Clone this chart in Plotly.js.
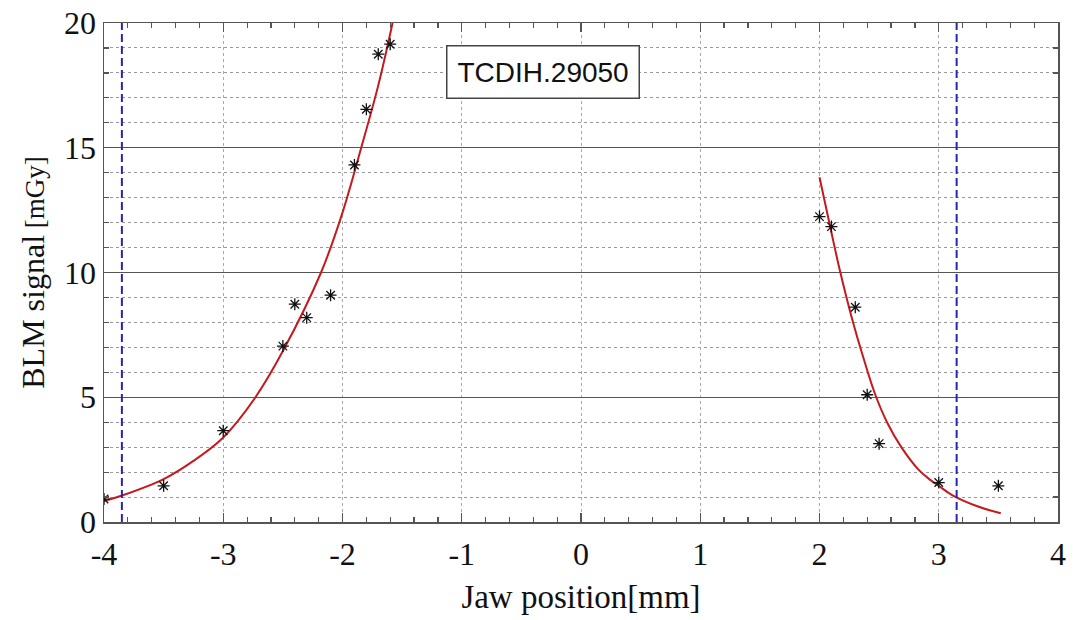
<!DOCTYPE html>
<html>
<head>
<meta charset="utf-8">
<script src="https://cdn.plot.ly/plotly-3.0.1.min.js"></script>
<style>
  html, body { margin: 0; padding: 0; background: #ffffff; }
  #chart { width: 1075px; height: 620px; }
</style>
</head>
<body>
<div id="chart"></div>
<script>
// ---- measured BLM signal (mGy) vs jaw position (mm) ----
const leftJawPos    = [-4.0, -3.5, -3.0, -2.5, -2.4, -2.3, -2.1, -1.9, -1.8, -1.7, -1.6];
const leftSignal    = [0.92, 1.45, 3.66, 7.05, 8.73, 8.19, 9.09, 14.31, 16.54, 18.75, 19.15];
const rightJawPos   = [2.0, 2.1, 2.3, 2.4, 2.5, 3.0, 3.5];
const rightSignal   = [12.24, 11.84, 8.61, 5.10, 3.14, 1.58, 1.45];

// ---- fitted curves ----
const leftFitPos    = [-4.0, -3.855, -3.5, -3.25, -3.0, -2.73, -2.5, -2.18, -2.0, -1.843, -1.7, -1.58];
const leftFitVal    = [0.84, 1.05, 1.72, 2.45, 3.39, 5.0, 6.85, 10.0, 12.4, 15.0, 17.5, 20.0];
const rightFitPos   = [2.0, 2.1, 2.17, 2.27, 2.37, 2.468, 2.566, 2.686, 2.83, 2.92, 3.0, 3.112, 3.33, 3.52];
const rightFitVal   = [13.82, 11.6, 10.1, 8.2, 6.55, 5.1, 4.0, 3.0, 2.1, 1.72, 1.45, 1.08, 0.62, 0.35];

// ---- aperture limits (blue dashed) ----
const apertureLimits = [-3.85, 3.15];

// ---- tick labels ----
const xTickVals = [-4, -3, -2, -1, 0, 1, 2, 3, 4];
const xTickText = ['-4', '-3', '-2', '-1', '0', '1', '2', '3', '4'];
const yTickVals = [0, 5, 10, 15, 20];
const yTickText = ['0', '5', '10', '15', '20'];

// ---- labels ----
const collimatorName = 'TCDIH.29050';
const xTitle = 'Jaw position[mm]';
const yTitle = 'BLM signal<span style="font-size:27px"> [mGy]</span>';

const serif = 'Liberation Serif, Times New Roman, serif';
const sans = 'Liberation Sans, Arial, sans-serif';

const markerStyle = { symbol: 'asterisk-open', size: 10, color: '#111', line: { color: '#111', width: 1.3 } };
const fitLine = { color: '#c41a1f', width: 2, shape: 'spline', smoothing: 1 };

const traces = [
  { x: leftFitPos, y: leftFitVal, mode: 'lines', line: fitLine, hoverinfo: 'skip' },
  { x: rightFitPos, y: rightFitVal, mode: 'lines', line: fitLine, hoverinfo: 'skip' },
  { x: leftJawPos, y: leftSignal, mode: 'markers', marker: markerStyle },
  { x: rightJawPos, y: rightSignal, mode: 'markers', marker: markerStyle }
];

const shapes = apertureLimits.map(v => ({
  type: 'line', xref: 'x', yref: 'paper', x0: v, x1: v, y0: 0, y1: 1,
  line: { color: '#2626b5', width: 2, dash: '8px,4px' }, layer: 'above'
}));

const axisCommon = {
  showline: true, linecolor: '#555', linewidth: 1.5, mirror: 'ticks',
  ticks: 'inside', ticklen: 9, tickwidth: 1.2, tickcolor: '#555',
  zeroline: false, tickmode: 'array',
  tickfont: { family: serif, size: 32, color: '#111' }
};

const layout = {
  width: 1075, height: 620,
  margin: { l: 104, r: 17, t: 23, b: 98 },
  paper_bgcolor: '#ffffff', plot_bgcolor: '#ffffff',
  showlegend: false,
  xaxis: Object.assign({}, axisCommon, {
    range: [-4, 4], tickvals: xTickVals, ticktext: xTickText, ticklabelstandoff: 3,
    showgrid: true, gridcolor: '#aaa', griddash: 'dot', gridwidth: 1,
    minor: { dtick: 0.2, tick0: 0, ticks: 'inside', ticklen: 5, tickcolor: '#555', tickwidth: 1.2, showgrid: false },
    title: { text: xTitle, font: { family: serif, size: 33, color: '#111' }, standoff: 14 }
  }),
  yaxis: Object.assign({}, axisCommon, {
    range: [0, 20], tickvals: yTickVals, ticktext: yTickText,
    showgrid: true, gridcolor: '#555', gridwidth: 1.3,
    minor: { dtick: 1, tick0: 0, ticks: 'inside', ticklen: 5, tickcolor: '#555', tickwidth: 1.2,
             showgrid: true, griddash: 'dot', gridcolor: '#999', gridwidth: 1 },
    title: { text: yTitle, font: { family: serif, size: 32, color: '#111' }, standoff: 10 }
  }),
  shapes: shapes,
  annotations: [{
    x: -0.32, y: 18.05, xref: 'x', yref: 'y', text: collimatorName, showarrow: false,
    font: { family: sans, size: 28, color: '#111' },
    bgcolor: '#ffffff', bordercolor: '#444', borderwidth: 1.5, borderpad: 10
  }]
};

Plotly.newPlot('chart', traces, layout, { displayModeBar: false, staticPlot: true });
</script>
</body>
</html>
